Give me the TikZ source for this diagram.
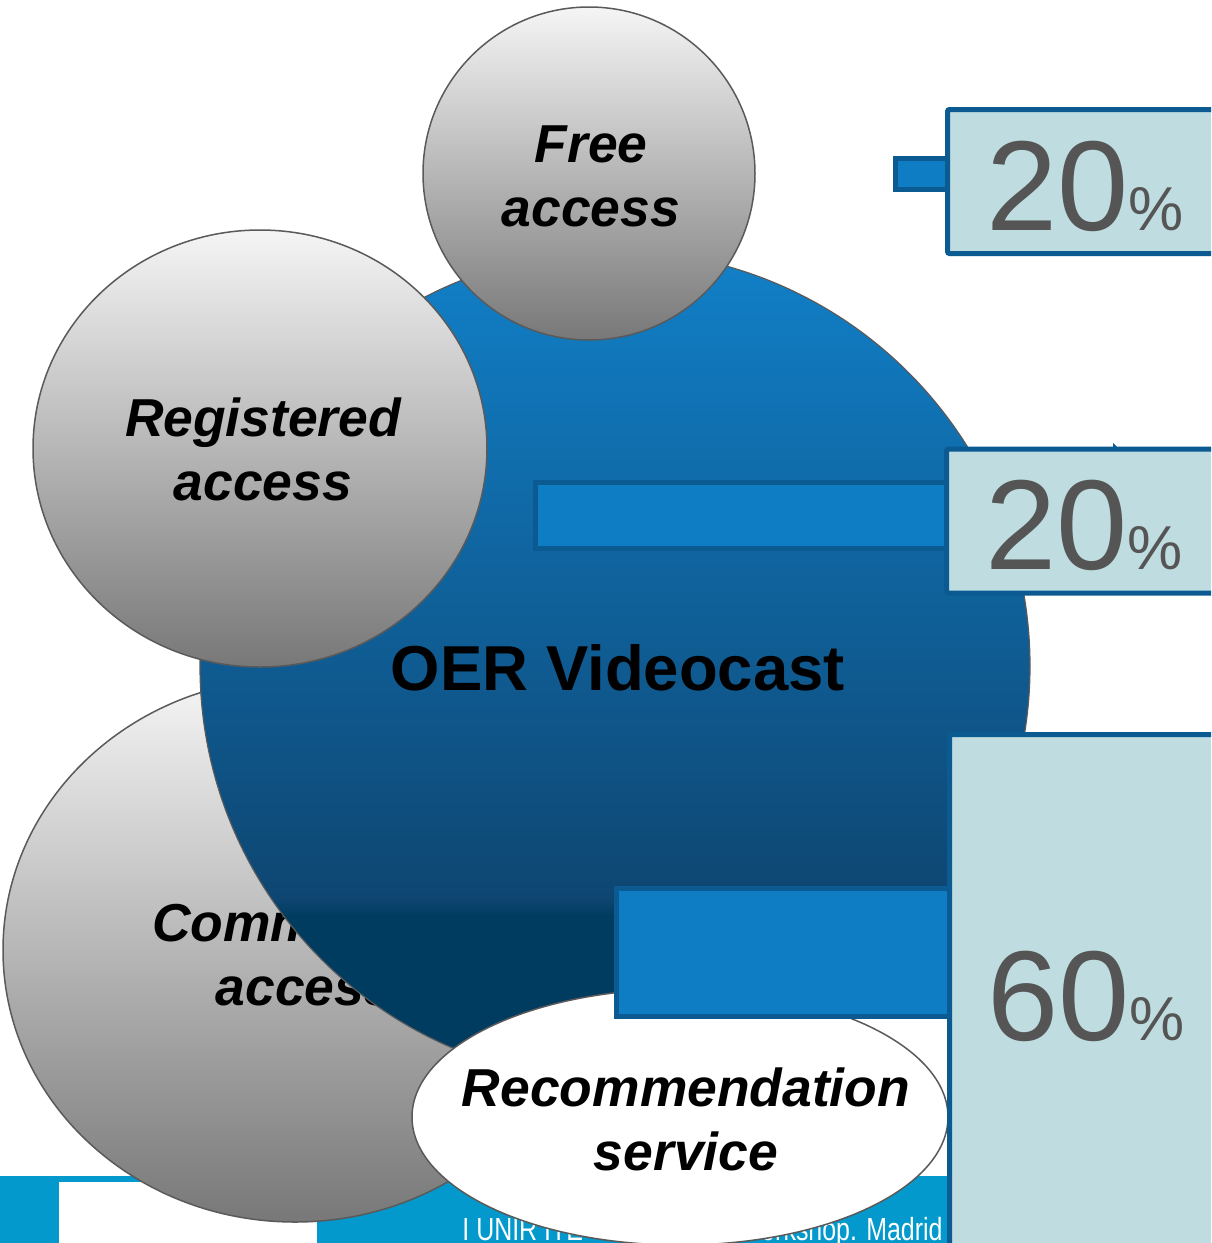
\documentclass[tikz,border=0pt]{standalone}
\usepackage{fontspec}
\setmainfont{Liberation Sans}
\usetikzlibrary{shapes.geometric}
\definecolor{oerT}{HTML}{1180C8}
\definecolor{oerM}{HTML}{0E4672}
\definecolor{oerD}{HTML}{003C60}
\definecolor{barfill}{HTML}{0F7DC4}
\definecolor{barline}{HTML}{0B5A92}
\definecolor{boxfill}{HTML}{BFDDE0}
\definecolor{pctgray}{HTML}{555555}
\definecolor{footblue}{HTML}{0399CD}
\definecolor{rimgray}{HTML}{5A5A5A}
\pgfdeclareverticalshading{oershade}{100bp}{color(0bp)=(oerD); color(35bp)=(oerD); color(36bp)=(oerM); color(75bp)=(oerT); color(100bp)=(oerT)}
\begin{document}
\begin{tikzpicture}[x=0.5pt,y=-0.5pt,
  graybub/.style={ellipse, draw=rimgray, line width=0.75pt, top color=white!96!black, bottom color=black!53, inner sep=0},
  lbl/.style={font=\fontsize{26.7}{32}\selectfont\bfseries\itshape, align=center, inner sep=0},
  barrect/.style={fill=barfill, draw=barline, line width=2.5pt},
  pbox/.style={fill=boxfill, draw=barline, line width=2.5pt, rounded corners=1pt},
  pct/.style={text=pctgray, inner sep=0, anchor=base west},
  foot/.style={text=white, inner sep=0, font=\fontsize{16}{16}\selectfont}]
\useasboundingbox (0,0) rectangle (1211,1243);
\clip (0,0) rectangle (1211,1243);
\fill[white] (0,0) rectangle (1211,1243);
% footer
\fill[footblue] (0,1176) rectangle (950,1243);
\fill[white] (59,1182) rectangle (317,1243);
\node[foot, anchor=base west] (ftl) at (462,1240) {\scalebox{0.78}[1]{I UNIR ITE}};
\node[foot, anchor=base east] (ftr) at (943,1240) {\scalebox{0.78}[1]{Workshop. Madrid}};
% commercial access
\node[graybub, minimum width=292pt, minimum height=272pt] (comm) at (295,950) {};
\node[lbl] (commtext) at (305,954) {Commercial\\access};
% big circle
\node[circle, minimum size=415pt, inner sep=0, shading=oershade, draw=rimgray, line width=0.6pt] (oer) at (615,666) {};
\node[font=\fontsize{31.75}{38}\selectfont\bfseries, inner sep=0, anchor=base] (oertext) at (618,690) {OER Videocast};
% registered & free
\node[graybub, minimum width=227pt, minimum height=218.5pt] (reg) at (260,448.5) {};
\node[lbl] (regtext) at (263,449) {Registered\\access};
\node[graybub, minimum width=166pt, minimum height=166.5pt] (free) at (589,173.5) {};
\node[lbl] (freetext) at (591,176) {Free\\access};
% recommendation
\node[ellipse, fill=white, draw=rimgray, line width=0.75pt, inner sep=0, minimum width=268pt, minimum height=128pt] (rec) at (680,1117) {};
\node[lbl] (rectext) at (686,1119.5) {Recommendation\\service};
% bars
\draw[barrect] (895.5,158.5) rectangle (947,189.5);
\draw[barrect] (535.5,482) rectangle (947,548.5);
\draw[barrect] (616,888.5) rectangle (949,1016.5);
% boxes
\fill[barline] (1113,443) -- (1113,449) -- (1119,449) -- cycle;
\draw[pbox] (947.5,109.5) rectangle (1240,253.5);
\draw[pbox] (946.5,449) rectangle (1240,593);
\draw[pbox] (949.5,734.5) rectangle (1240,1270);
\node[pct] (p1) at (986,230) {{\fontsize{64}{64}\selectfont 20}{\fontsize{31}{31}\selectfont\%}};
\node[pct] (p2) at (985,569) {{\fontsize{64}{64}\selectfont 20}{\fontsize{31}{31}\selectfont\%}};
\node[pct] (p3) at (987,1040) {{\fontsize{64}{64}\selectfont 60}{\fontsize{31}{31}\selectfont\%}};
\end{tikzpicture}
\end{document}
